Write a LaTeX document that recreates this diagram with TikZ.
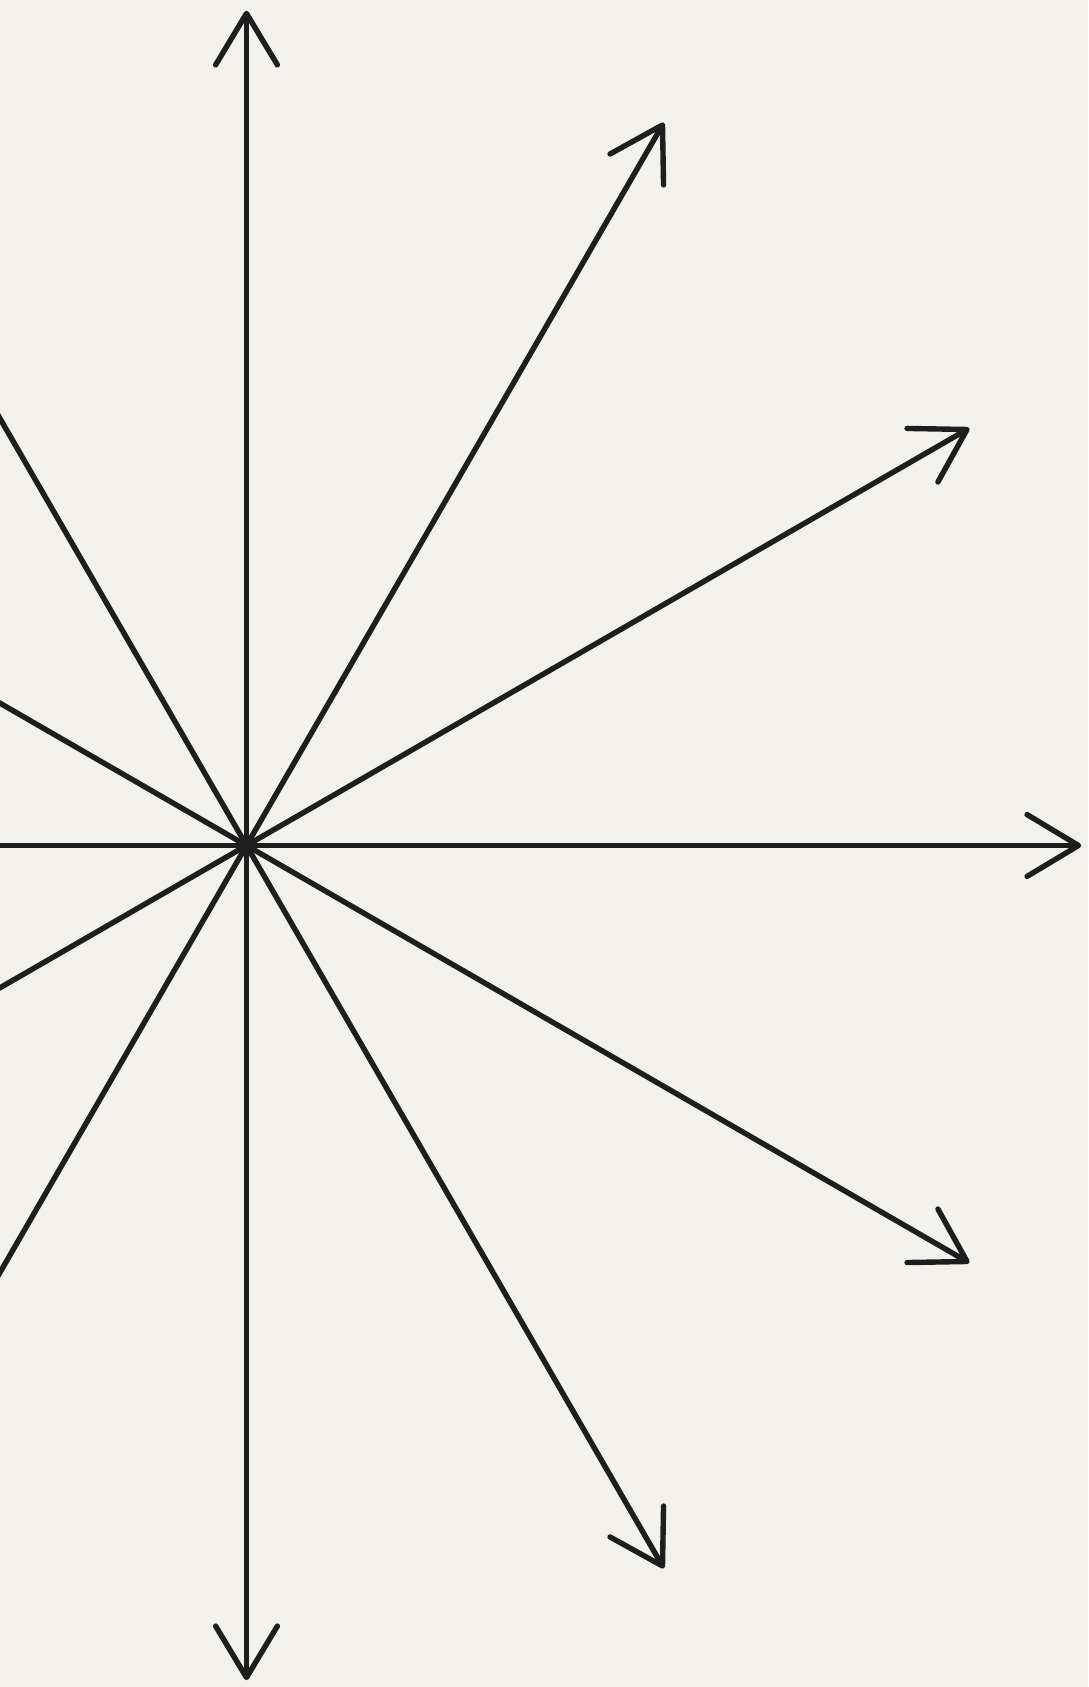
\documentclass[tikz,border=0pt]{standalone}
\usetikzlibrary{calc}
\definecolor{bgc}{HTML}{F3F1EC}
\definecolor{ink}{HTML}{1E1E1E}
\tikzset{
  ray/.style={draw=ink, line width=5.4pt, line cap=butt},
  barb/.style={draw=ink, line width=5.4pt, line cap=round, line join=round}
}
\begin{document}
\begin{tikzpicture}[x=1pt,y=1pt]
\fill[bgc] (0,0) rectangle (1088,1687);
\useasboundingbox (0,0) rectangle (1088,1687);
\clip (0,0) rectangle (1088,1687);
\coordinate (O) at (246.5,841.5);
\foreach \a in {0,30,...,330}{
  \coordinate (tip\a) at ($(O)+(\a:832)$);
  \coordinate (l\a) at ($(tip\a)+(\a+180-31:60)$);
  \coordinate (r\a) at ($(tip\a)+(\a+180+31:60)$);
  \draw[ray] (O) -- (tip\a);
  \draw[barb] (l\a) -- (tip\a) -- (r\a);
}
\fill[ink] (O) circle (4.5pt);
\end{tikzpicture}
\end{document}
